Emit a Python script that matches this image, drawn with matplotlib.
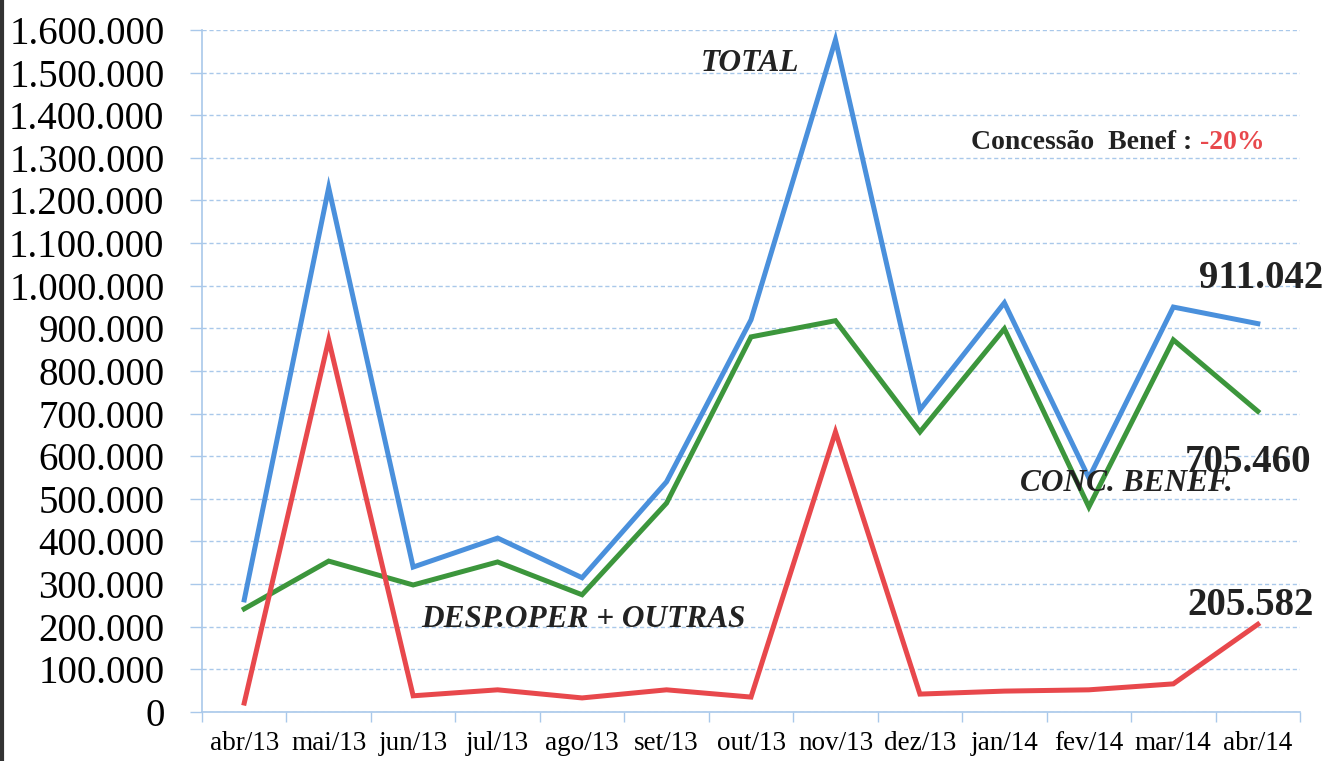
"""Recreate the TOTAL / CONC. BENEF. / DESP.OPER line chart (abr/13 - abr/14)."""

import matplotlib
matplotlib.use("Agg")
import matplotlib.pyplot as plt
from matplotlib.ticker import FuncFormatter, MultipleLocator
from matplotlib.lines import Line2D

MONTHS = ["abr/13", "mai/13", "jun/13", "jul/13", "ago/13", "set/13", "out/13",
          "nov/13", "dez/13", "jan/14", "fev/14", "mar/14", "abr/14"]
TOTAL = [263000, 1230000, 340000, 408000, 315000, 540000, 920000,
         1577000, 709000, 960000, 549000, 950000, 911042]
CONC_BENEF = [242000, 354000, 298000, 352000, 275000, 490000, 880000,
              918000, 657000, 899000, 481000, 873000, 705460]
DESP_OPER = [21000, 873000, 38000, 52000, 33000, 52000, 35000,
             657000, 42000, 49000, 52000, 66000, 205582]

BLUE = "#4a90dc"
GREEN = "#3c963c"
RED = "#e8484c"
GRID = "#a9c8ea"
SERIF = "Liberation Serif"


def thousands(v, _pos):
    return f"{int(v):,}".replace(",", ".")


fig = plt.figure(figsize=(13.43, 7.61), dpi=100)
ax = fig.add_axes([0.1504, 0.0644, 0.8176, 0.8962])

x = range(len(MONTHS))
ax.plot(x, TOTAL, color=BLUE, lw=3.6, solid_joinstyle="miter", zorder=3)
ax.plot(x, CONC_BENEF, color=GREEN, lw=3.6, solid_joinstyle="miter", zorder=3)
ax.plot(x, DESP_OPER, color=RED, lw=3.6, solid_joinstyle="miter", zorder=3)

ax.set_xlim(-0.5, len(MONTHS) - 0.5)
ax.set_ylim(0, 1600000)
ax.yaxis.set_major_locator(MultipleLocator(100000))
ax.yaxis.set_major_formatter(FuncFormatter(thousands))
ax.grid(axis="y", color=GRID, ls=(0, (3, 2)), lw=1.0)
ax.set_axisbelow(True)

# category labels centred, tick marks on the boundaries (Excel style)
ax.set_xticks([i - 0.5 for i in range(len(MONTHS) + 1)])
ax.set_xticklabels([])
ax.set_xticks(list(x), minor=True)
ax.set_xticklabels(MONTHS, minor=True, fontsize=19.5, family=SERIF)
ax.tick_params(axis="x", which="major", length=7, color=GRID, width=1)
ax.tick_params(axis="x", which="minor", length=0, pad=14)
ax.tick_params(axis="y", length=9, color=GRID, width=1, pad=18,
               labelsize=28)
for lab in ax.get_yticklabels():
    lab.set_family(SERIF)

for side in ("top", "right"):
    ax.spines[side].set_visible(False)
for side in ("left", "bottom"):
    ax.spines[side].set_color(GRID)
    ax.spines[side].set_linewidth(1.2)

bi = dict(family=SERIF, fontweight="bold", fontstyle="italic", fontsize=22.5,
          color="#222222", ha="left", va="center")
ax.text(5.4, 1522000, "TOTAL", **bi)
ax.text(9.18, 535000, "CONC. BENEF.", **bi)
ax.text(2.10, 216000, "DESP.OPER + OUTRAS", **bi)

num = dict(family=SERIF, fontweight="bold", fontsize=28, color="#222222",
           ha="left", va="center")
ax.text(11.30, 1016000, thousands(TOTAL[-1], None), **num)
ax.text(11.13, 586000, thousands(CONC_BENEF[-1], None), **num)
ax.text(11.17, 251000, thousands(DESP_OPER[-1], None), **num)

ax.text(8.61, 1335000, "Concessão  Benef :", family=SERIF, fontweight="bold",
        fontsize=20, color="#222222", ha="left", va="center")
ax.text(11.31, 1335000, "-20%", family=SERIF, fontweight="bold",
        fontsize=20, color=RED, ha="left", va="center")

# dark border line on the left edge of the scan
fig.add_artist(Line2D([0.0015, 0.0015], [0, 1], transform=fig.transFigure,
                      color="#333333", lw=3))

fig.savefig("out.png", dpi=100)
